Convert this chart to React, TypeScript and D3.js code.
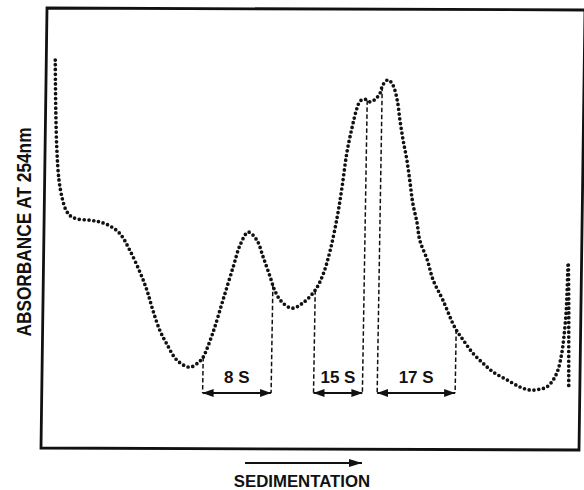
import React, { useEffect, useRef } from 'react';
import * as d3 from 'd3';

// Gradient position (% of tube length, top -> bottom) and A254
const positions = [
  2.1, 2.2, 2.4, 2.8, 3.4, 4.1, 4.9, 6.2, 8.6, 10.4, 12.3, 14.2, 16.0, 17.9, 19.2, 20.3,
  21.6, 22.9, 24.8, 27.2, 29.1, 29.7, 31.5, 33.4, 35.3, 36.6, 38.1, 39.7, 40.9, 42.2,
  43.1, 44.4, 46.3, 48.3, 50.6, 52.1, 53.4, 54.7, 55.6, 56.5, 57.5, 58.4, 59.0, 59.9,
  60.8, 61.8, 62.7, 63.2, 64.2, 65.1, 65.9, 66.4, 67.0, 67.7, 68.3, 68.8, 69.6, 70.1,
  71.5, 72.6, 74.4, 76.7, 78.2, 80.0, 81.9, 83.8, 86.4, 88.8, 90.7, 92.5, 93.8, 95.0,
  95.9, 96.6, 97.0, 97.4, 97.6, 97.8, 97.9, 97.9, 97.9
];
const absorbance = [
  0.884, 0.770, 0.680, 0.611, 0.570, 0.543, 0.530, 0.523, 0.520, 0.516, 0.507, 0.489,
  0.452, 0.402, 0.361, 0.316, 0.270, 0.239, 0.202, 0.186, 0.200, 0.209, 0.264, 0.339,
  0.414, 0.464, 0.493, 0.475, 0.436, 0.391, 0.359, 0.334, 0.320, 0.332, 0.361, 0.398,
  0.452, 0.527, 0.595, 0.673, 0.732, 0.775, 0.791, 0.795, 0.789, 0.795, 0.809, 0.827,
  0.839, 0.827, 0.793, 0.748, 0.702, 0.657, 0.605, 0.559, 0.514, 0.475, 0.430, 0.384,
  0.339, 0.275, 0.248, 0.218, 0.195, 0.175, 0.157, 0.141, 0.134, 0.136, 0.141, 0.157,
  0.180, 0.218, 0.255, 0.309, 0.361, 0.423, 0.339, 0.248, 0.143
];

// Pooled fractions
const fractionLabels = ['8 S', '15 S', '17 S'];
const fractionStart = [29.7, 50.6, 63.1];
const fractionEnd = [42.7, 60.3, 76.9];

const W = 584;
const H = 490;
const FONT = '"Liberation Sans", Arial, Helvetica, sans-serif';

// interpolate the trace (ascending part) to find where a divider meets it
function traceAt(x: number): number {
  for (let i = 0; i < positions.length - 1; i++) {
    const a = positions[i], b = positions[i + 1];
    if (x >= a && x <= b && b > a) {
      const t = (x - a) / (b - a);
      return absorbance[i] + t * (absorbance[i + 1] - absorbance[i]);
    }
  }
  return 0;
}

export default function App() {
  const svgRef = useRef<SVGSVGElement>(null);

  useEffect(() => {
    if (!svgRef.current) return;
    const svg = d3.select(svgRef.current);
    svg.selectAll('*').remove();

    const x = d3.scaleLinear().domain([0, 100]).range([44, 580]);
    const y = d3.scaleLinear().domain([0, 1]).range([449, 9]);
    const tilt = 0.0165; // the scan is slightly rotated
    const arrowY = 393;

    svg.append('rect').attr('width', W).attr('height', H).attr('fill', '#fff');

    // frame
    svg.append('polygon')
      .attr('points', [
        [x(0) + 3, 8], [x(100) + 5, 10], [x(100) - 1, 450], [x(0) - 3, 448]
      ].map(p => p.join(',')).join(' '))
      .attr('fill', 'none')
      .attr('stroke', '#111')
      .attr('stroke-width', 2.8);

    // arrow heads
    const defs = svg.append('defs');
    defs.append('marker')
      .attr('id', 'head')
      .attr('viewBox', '0 0 11 8')
      .attr('refX', 11).attr('refY', 4)
      .attr('markerWidth', 11).attr('markerHeight', 8)
      .attr('markerUnits', 'userSpaceOnUse')
      .attr('orient', 'auto-start-reverse')
      .append('path').attr('d', 'M0,0L11,4L0,8Z').attr('fill', '#111');
    defs.append('marker')
      .attr('id', 'headLong')
      .attr('viewBox', '0 0 13 8')
      .attr('refX', 13).attr('refY', 4)
      .attr('markerWidth', 13).attr('markerHeight', 8)
      .attr('markerUnits', 'userSpaceOnUse')
      .attr('orient', 'auto')
      .append('path').attr('d', 'M0,0L13,4L0,8Z').attr('fill', '#111');

    // dashed dividers + double arrows
    const g = svg.append('g');
    fractionLabels.forEach((label, i) => {
      const ends = [fractionStart[i], fractionEnd[i]].map(v => {
        const top = y(traceAt(v));
        return { x0: x(v), y0: top, x1: x(v) - tilt * (arrowY - top) };
      });
      ends.forEach(e => {
        g.append('line')
          .attr('x1', e.x0).attr('y1', e.y0)
          .attr('x2', e.x1).attr('y2', arrowY)
          .attr('stroke', '#111')
          .attr('stroke-width', 1.5)
          .attr('stroke-dasharray', '4.5 2.5');
      });
      g.append('line')
        .attr('x1', ends[0].x1).attr('y1', arrowY)
        .attr('x2', ends[1].x1).attr('y2', arrowY)
        .attr('stroke', '#111')
        .attr('stroke-width', 2.2)
        .attr('marker-start', 'url(#head)')
        .attr('marker-end', 'url(#head)');
      g.append('text')
        .attr('x', (ends[0].x1 + ends[1].x1) / 2)
        .attr('y', arrowY - 10)
        .attr('text-anchor', 'middle')
        .attr('font-family', FONT)
        .attr('font-weight', 'bold')
        .attr('font-size', 17)
        .attr('fill', '#111')
        .text(label);
    });

    // dotted trace
    const line = d3.line<number>()
      .x(i => x(positions[i]))
      .y(i => y(absorbance[i]))
      .curve(d3.curveCatmullRom.alpha(0.5));
    svg.append('path')
      .attr('d', line(d3.range(positions.length)))
      .attr('fill', 'none')
      .attr('stroke', '#111')
      .attr('stroke-width', 3.7)
      .attr('stroke-linecap', 'round')
      .attr('stroke-dasharray', '0 4.8');

    // axis titles
    svg.append('text')
      .attr('transform', 'translate(31,232) rotate(-90)')
      .attr('text-anchor', 'middle')
      .attr('font-family', FONT)
      .attr('font-weight', 'bold')
      .attr('font-size', 21)
      .attr('textLength', 209)
      .attr('lengthAdjust', 'spacingAndGlyphs')
      .attr('fill', '#111')
      .text('ABSORBANCE AT 254nm');

    svg.append('line')
      .attr('x1', 245).attr('y1', 463)
      .attr('x2', 362).attr('y2', 463)
      .attr('stroke', '#111')
      .attr('stroke-width', 1.8)
      .attr('marker-end', 'url(#headLong)');
    svg.append('text')
      .attr('x', 302).attr('y', 487)
      .attr('text-anchor', 'middle')
      .attr('font-family', FONT)
      .attr('font-weight', 'bold')
      .attr('font-size', 16.8)
      .attr('fill', '#111')
      .text('SEDIMENTATION');
  }, []);

  return (
    <svg
      ref={svgRef}
      width={W}
      height={H}
      style={{ position: 'absolute', left: 0, top: 0, display: 'block' }}
    />
  );
}
